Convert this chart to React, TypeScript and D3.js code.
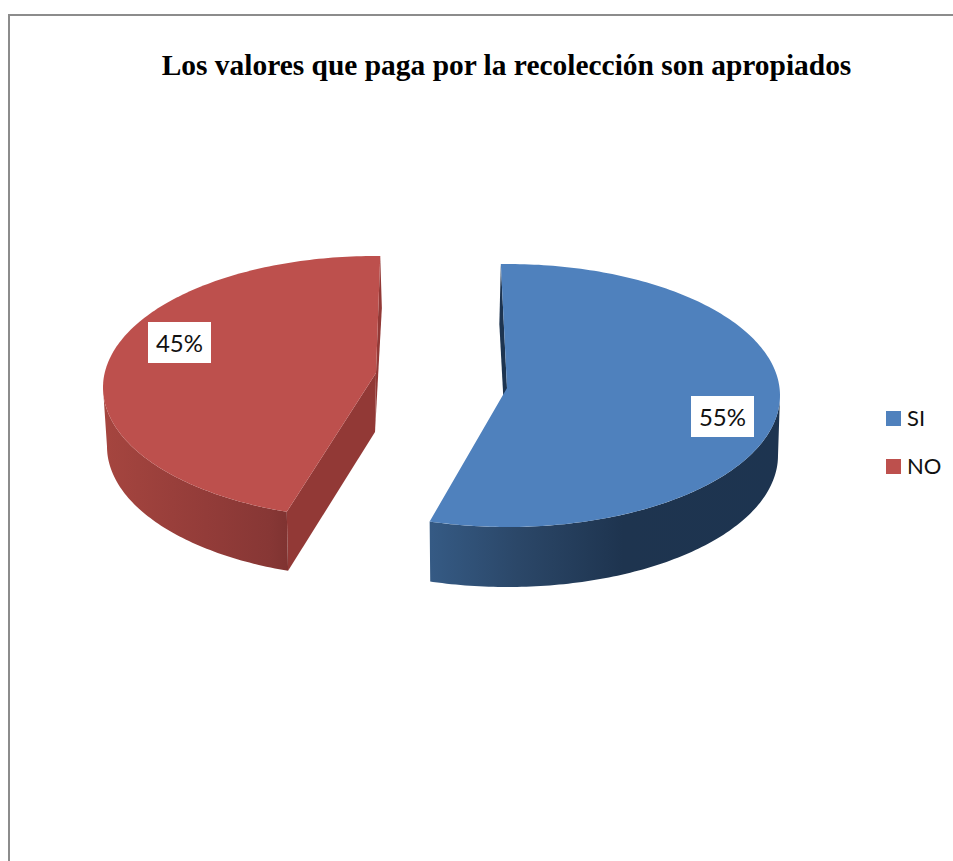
import React from "react";
import * as d3 from "d3";

const categories = ["SI", "NO"];
const shares = [55, 45];
const labels = ["55%", "45%"];
const colors = ["#4f81bd", "#bd504d"];
const cutColors = ["#1d3450", "#923936"];
const sideStops = [
  [["0", "#355a84"], ["0.25", "#2b4768"], ["0.55", "#1e344f"], ["1", "#1d3450"]],
  [["0", "#a5453f"], ["0.55", "#933c39"], ["0.9", "#873735"], ["1", "#7f3331"]],
];
const title = "Los valores que paga por la recolección son apropiados";

// Per-slice exploded geometry of the tilted pie
const layouts = [
  { cx: 507.5, cy: 395.5, rx: 272.5, ry: 131.5, ax: 507, ay: 388, rot: -1.4, depth: 60, bottomRx: 270.5, sx0: 431, sx1: 780, cut: [-1.5, 60, -1, 59] },
  { cx: 375.5, cy: 387.5, rx: 272.5, ry: 131.5, ax: 376, ay: 373, rot: 199, depth: 59, bottomRx: 268.5, sx0: 105, sx1: 288, cut: [1.6, 52, -1, 59] },
];
const labelBoxes = [
  { x: 691, y: 396, w: 63, h: 41 },
  { x: 148, y: 322, w: 63, h: 41 },
];
const legendX = 886;
const legendYs = [411, 459];

const deg = Math.PI / 180;
const angleScale = d3.scaleLinear().domain([0, d3.sum(shares)]).range([0, 360]);
const lineGen = d3.line<[number, number]>().x((d) => d[0]).y((d) => d[1]);

function rim(L: (typeof layouts)[number], a: number, drop = 0, rx = L.rx): [number, number] {
  return [L.cx + rx * Math.sin(a * deg), L.cy + drop - L.ry * Math.cos(a * deg)];
}

export default function App() {
  return (
    <svg width={953} height={861} style={{ position: "absolute", left: 0, top: 0, background: "#fff" }}>
      <defs>
        {layouts.map((L, i) => (
          <linearGradient key={i} id={`side${i}`} gradientUnits="userSpaceOnUse" x1={L.sx0} x2={L.sx1} y1={0} y2={0}>
            {sideStops[i].map(([o, c]) => (
              <stop key={o} offset={o} stopColor={c} />
            ))}
          </linearGradient>
        ))}
      </defs>
      <path d="M9 861V15H953" fill="none" stroke="#8c8c8c" strokeWidth={2} />
      <text x={506.5} y={75} textAnchor="middle" fontFamily="'Liberation Serif', serif" fontWeight="bold" fontSize={29.45} fill="#000">
        {title}
      </text>
      {layouts.map((L, i) => {
        const span = angleScale(shares[i]);
        const a0 = L.rot;
        const a1 = L.rot + span;
        const angles = d3.range(a0, a1, 1).concat([a1]);
        const topPts = angles.map((a) => rim(L, a));
        const top = lineGen([[L.ax, L.ay], ...topPts])! + "Z";
        // outer wall: only the part of the rim facing the viewer
        const lo = Math.max(a0, 90);
        const hi = Math.min(a1, 270);
        const visible = d3.range(lo, hi, 1).concat([hi]);
        const wallTop = visible.map((a) => rim(L, a));
        const wallBottom = visible.map((a) => rim(L, a, L.depth, L.bottomRx)).reverse();
        const wall = lineGen([...wallTop, ...wallBottom])! + "Z";
        // the two flat cut faces
        const front = i === 0 ? a1 : a0;
        const pf = rim(L, front);
        const pfb = rim(L, front, L.depth, L.bottomRx);
        const frontFace = lineGen([[L.ax, L.ay], pf, pfb, [L.ax - 1, L.ay + L.depth]])! + "Z";
        const pb = rim(L, i === 0 ? a0 : a1);
        const backFace =
          lineGen([pb, [pb[0] + L.cut[0], pb[1] + L.cut[1]], [L.ax + L.cut[2], L.ay + L.cut[3]], [L.ax, L.ay]])! + "Z";
        return (
          <g key={categories[i]}>
            <path d={backFace} fill={cutColors[i]} />
            {i === 1 && <path d={frontFace} fill={cutColors[i]} />}
            <path d={wall} fill={`url(#side${i})`} />
            <path d={top} fill={colors[i]} />
          </g>
        );
      })}
      {labelBoxes.map((b, i) => (
        <g key={labels[i]}>
          <rect x={b.x} y={b.y} width={b.w} height={b.h} fill="#fff" />
          <text x={b.x + b.w / 2} y={b.y + 30} textAnchor="middle" fontFamily="Lato, sans-serif" fontSize={24} fill="#111">
            {labels[i]}
          </text>
        </g>
      ))}
      {categories.map((c, i) => (
        <g key={c}>
          <rect x={legendX} y={legendYs[i]} width={15} height={15} fill={colors[i]} />
          <text x={legendX + 21} y={legendYs[i] + 15} fontFamily="Lato, sans-serif" fontSize={22} fill="#111">
            {c}
          </text>
        </g>
      ))}
    </svg>
  );
}
